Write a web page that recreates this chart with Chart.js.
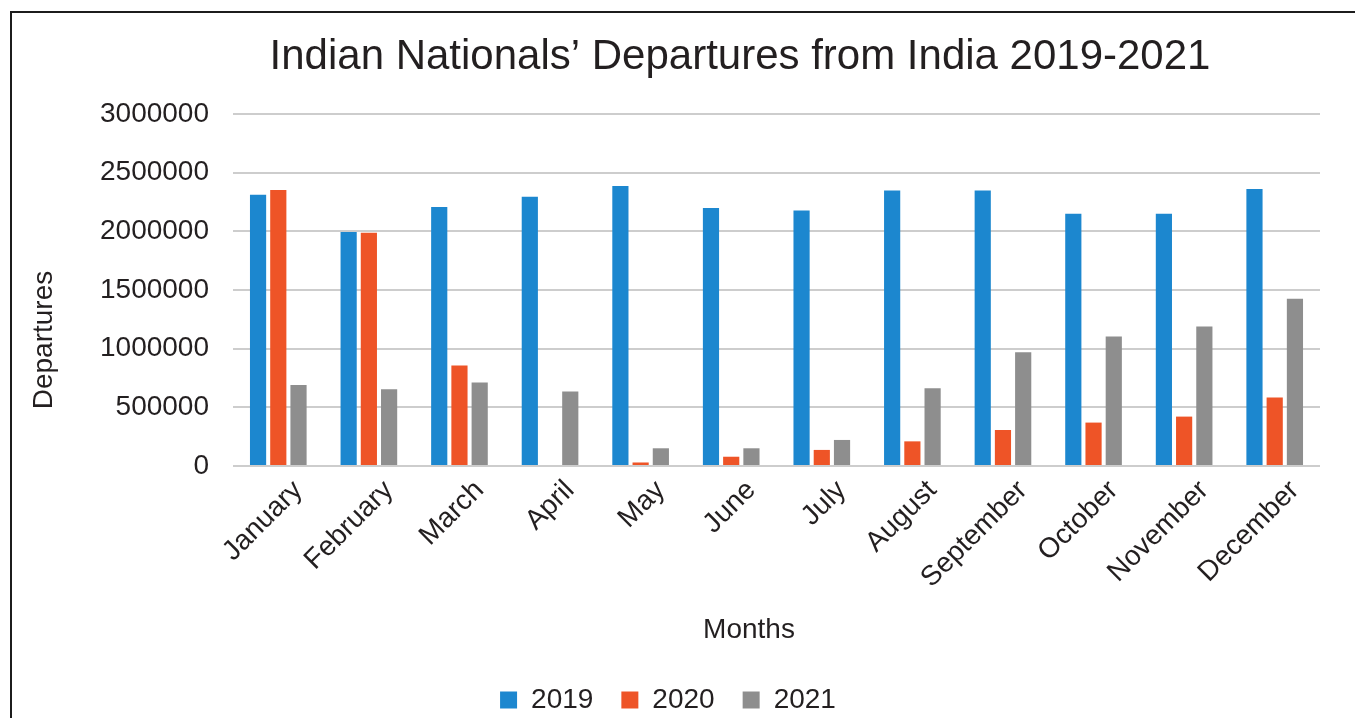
<!DOCTYPE html>
<html>
<head>
<meta charset="utf-8">
<script src="https://cdn.jsdelivr.net/npm/chart.js@4"></script>
<style>
  html, body { margin: 0; padding: 0; background: #fff; overflow: hidden; width: 1355px; height: 718px; }
  #chart { position: absolute; left: 0; top: 0; }
  #frame { position: absolute; left: 10px; top: 11px; width: 2000px; height: 2000px;
           border-left: 2px solid #1c1c1c; border-top: 2px solid #1c1c1c; pointer-events: none; }
</style>
</head>
<body>
<canvas id="chart" width="1480" height="724"></canvas>
<div id="frame"></div>
<script>
const months = ['January', 'February', 'March', 'April', 'May', 'June',
    'July', 'August', 'September', 'October', 'November', 'December'];
const dep2019 = [2312000, 1994000, 2207000, 2295000, 2386000, 2199000, 2178000, 2349000, 2349000, 2150000, 2150000, 2361000];
const dep2020 = [2352000, 1988000, 856000, 0, 30000, 79000, 137000, 210000, 307000, 370000, 421000, 583000];
const dep2021 = [691000, 654000, 711000, 634000, 151000, 151000, 222000, 663000, 970000, 1103000, 1189000, 1425000];
const yTicks = [0, 500000, 1000000, 1500000, 2000000, 2500000, 3000000];

const textColor = '#231f20';
const font = 'Liberation Sans, Arial, sans-serif';

// title, legend and axis names sit off-centre in the original, nudge them by hand
const axisNames = {
    id: 'axisNames',
    afterLayout(chart) {
        chart.titleBlock.left += 30;
        chart.titleBlock.right += 30;
        chart.legend.left -= 42;
        chart.legend.right -= 42;
    },
    afterDraw(chart) {
        const ctx = chart.ctx;
        ctx.save();
        ctx.fillStyle = textColor;
        ctx.font = '28px ' + font;
        ctx.textAlign = 'center';
        ctx.textBaseline = 'middle';
        ctx.fillText('Months', chart.width / 2 + 9, chart.chartArea.bottom + 164);
        ctx.translate(44, 340);
        ctx.rotate(-Math.PI / 2);
        ctx.fillText('Departures', 0, 0);
        ctx.restore();
    }
};

new Chart(document.getElementById('chart'), {
    type: 'bar',
    data: {
        labels: months,
        datasets: [
            { label: '2019', data: dep2019, backgroundColor: '#1c87cf' },
            { label: '2020', data: dep2020, backgroundColor: '#ee5427' },
            { label: '2021', data: dep2021, backgroundColor: '#8e8e8e' }
        ]
    },
    options: {
        responsive: false,
        animation: false,
        devicePixelRatio: 1,
        categoryPercentage: 0.67,
        barPercentage: 0.8,
        layout: { padding: { left: 100, right: 160, top: 0, bottom: 0 } },
        scales: {
            x: {
                grid: { display: false },
                border: { display: false },
                ticks: {
                    color: textColor,
                    font: { family: font, size: 28 },
                    minRotation: 45,
                    maxRotation: 45,
                    padding: 0,
                    labelOffset: 20,
                    autoSkip: false
                },
                afterFit: (scale) => { scale.height = 192; }
            },
            y: {
                min: 0,
                max: 3000000,
                afterBuildTicks: (scale) => { scale.ticks = yTicks.map(v => ({ value: v })); },
                grid: { color: '#cdcdcd', lineWidth: 2, drawTicks: false },
                border: { display: false },
                ticks: {
                    color: textColor,
                    font: { family: font, size: 28 },
                    padding: 24,
                    callback: (v) => String(v)
                },
                afterFit: (scale) => { scale.width = 133; }
            }
        },
        plugins: {
            title: {
                display: true,
                text: 'Indian Nationals\u2019 Departures from India 2019-2021',
                color: textColor,
                font: { family: font, size: 42, weight: 'normal' },
                padding: { top: 32, bottom: 31.6 }
            },
            legend: {
                position: 'bottom',
                labels: {
                    color: textColor,
                    font: { family: font, size: 28 },
                    boxWidth: 17,
                    boxHeight: 17,
                    padding: 28
                }
            },
            tooltip: { enabled: false }
        }
    },
    plugins: [axisNames]
});
</script>
</body>
</html>
